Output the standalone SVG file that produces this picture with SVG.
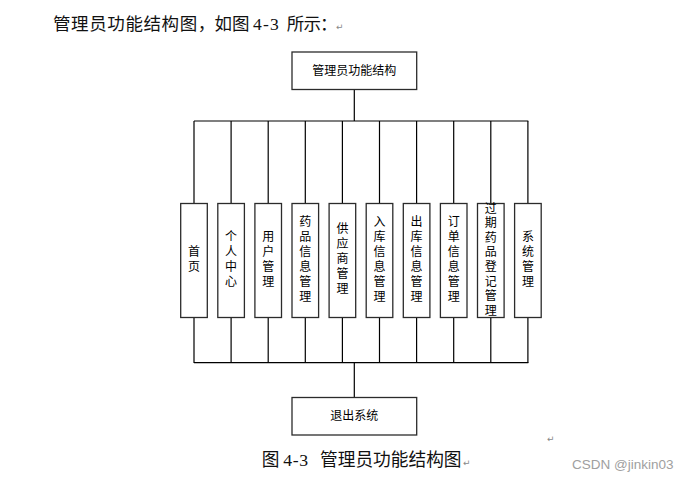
<svg xmlns="http://www.w3.org/2000/svg" width="685" height="482" viewBox="0 0 685 482">
<style>
.box{fill:#fff;stroke:#2b2b2b;stroke-width:1.3}
.ln{stroke:#000;stroke-width:1.2;fill:none}
.nt{font-family:"Liberation Sans","Noto Sans CJK SC",sans-serif;font-size:12px;fill:#000;text-anchor:middle;dominant-baseline:central}
.body{font-family:"Liberation Serif","Noto Sans CJK SC",serif;font-size:17.5px;fill:#111}
.ret{font-family:"DejaVu Sans",sans-serif;font-size:9px;fill:#888}
</style>
<rect width="685" height="482" fill="#fff"/>
<text class="body" y="30"><tspan x="53" letter-spacing="0.6">管理员功能结构图，</tspan><tspan x="214.5" letter-spacing="0">如图</tspan><tspan x="253" letter-spacing="1.2">4-3</tspan><tspan x="286.7" letter-spacing="-0.8">所示：</tspan></text>
<text class="ret" x="336" y="30">↵</text>
<g id="connectors">
<path class="ln" d="M354.3 89.5V121M194 121H528.3M194 362.7H528.3M354.3 362.7V397.5"/>
<path class="ln" d="M194 121V363M231.1 121V363M268.2 121V363M305.3 121V363M342.4 121V363M379.5 121V363M416.6 121V363M453.7 121V363M490.8 121V363M527.9 121V363"/>
</g>
<g id="root"><rect class="box" x="292" y="52" width="124.7" height="37.5"/><text class="nt" x="354.3" y="70.8">管理员功能结构</text></g>
<g id="n1"><rect class="box" x="180.7" y="203.5" width="26.6" height="114"/><text class="nt"><tspan x="194" y="251.5">首</tspan><tspan x="194" y="266.5">页</tspan></text></g>
<g id="n2"><rect class="box" x="217.8" y="203.5" width="26.6" height="114"/><text class="nt"><tspan x="231.1" y="236.5">个</tspan><tspan x="231.1" y="251.5">人</tspan><tspan x="231.1" y="266.5">中</tspan><tspan x="231.1" y="281.5">心</tspan></text></g>
<g id="n3"><rect class="box" x="254.9" y="203.5" width="26.6" height="114"/><text class="nt"><tspan x="268.2" y="236.5">用</tspan><tspan x="268.2" y="251.5">户</tspan><tspan x="268.2" y="266.5">管</tspan><tspan x="268.2" y="281.5">理</tspan></text></g>
<g id="n4"><rect class="box" x="292" y="203.5" width="26.6" height="114"/><text class="nt"><tspan x="305.3" y="221.5">药</tspan><tspan x="305.3" y="236.5">品</tspan><tspan x="305.3" y="251.5">信</tspan><tspan x="305.3" y="266.5">息</tspan><tspan x="305.3" y="281.5">管</tspan><tspan x="305.3" y="296.5">理</tspan></text></g>
<g id="n5"><rect class="box" x="329.1" y="203.5" width="26.6" height="114"/><text class="nt"><tspan x="342.4" y="229">供</tspan><tspan x="342.4" y="244">应</tspan><tspan x="342.4" y="259">商</tspan><tspan x="342.4" y="274">管</tspan><tspan x="342.4" y="289">理</tspan></text></g>
<g id="n6"><rect class="box" x="366.2" y="203.5" width="26.6" height="114"/><text class="nt"><tspan x="379.5" y="221.5">入</tspan><tspan x="379.5" y="236.5">库</tspan><tspan x="379.5" y="251.5">信</tspan><tspan x="379.5" y="266.5">息</tspan><tspan x="379.5" y="281.5">管</tspan><tspan x="379.5" y="296.5">理</tspan></text></g>
<g id="n7"><rect class="box" x="403.3" y="203.5" width="26.6" height="114"/><text class="nt"><tspan x="416.6" y="221.5">出</tspan><tspan x="416.6" y="236.5">库</tspan><tspan x="416.6" y="251.5">信</tspan><tspan x="416.6" y="266.5">息</tspan><tspan x="416.6" y="281.5">管</tspan><tspan x="416.6" y="296.5">理</tspan></text></g>
<g id="n8"><rect class="box" x="440.4" y="203.5" width="26.6" height="114"/><text class="nt"><tspan x="453.7" y="221.5">订</tspan><tspan x="453.7" y="236.5">单</tspan><tspan x="453.7" y="251.5">信</tspan><tspan x="453.7" y="266.5">息</tspan><tspan x="453.7" y="281.5">管</tspan><tspan x="453.7" y="296.5">理</tspan></text></g>
<g id="n9"><rect class="box" x="477.5" y="203.5" width="26.6" height="114"/><text class="nt"><tspan x="490.8" y="208.5">过</tspan><tspan x="490.8" y="223.1">期</tspan><tspan x="490.8" y="237.7">药</tspan><tspan x="490.8" y="252.3">品</tspan><tspan x="490.8" y="266.9">登</tspan><tspan x="490.8" y="281.5">记</tspan><tspan x="490.8" y="296.1">管</tspan><tspan x="490.8" y="310.7">理</tspan></text></g>
<g id="n10"><rect class="box" x="514.6" y="203.5" width="26.6" height="114"/><text class="nt"><tspan x="527.9" y="236.5">系</tspan><tspan x="527.9" y="251.5">统</tspan><tspan x="527.9" y="266.5">管</tspan><tspan x="527.9" y="281.5">理</tspan></text></g>
<g id="exit"><rect class="box" x="292" y="397.5" width="124.7" height="37.5"/><text class="nt" x="354.3" y="416.3">退出系统</text></g>
<text class="ret" x="547" y="442">↵</text>
<text class="body" y="466" style="font-size:17.7px"><tspan x="261.7">图</tspan><tspan x="283.3" letter-spacing="0.6">4-3</tspan><tspan x="320">管理员功能结构图</tspan></text>
<text class="ret" x="463" y="466">↵</text>
<text x="572" y="469" style="font-family:'Liberation Sans',sans-serif;font-size:13.5px;fill:#a0a0a0">CSDN @jinkin03</text>
</svg>
